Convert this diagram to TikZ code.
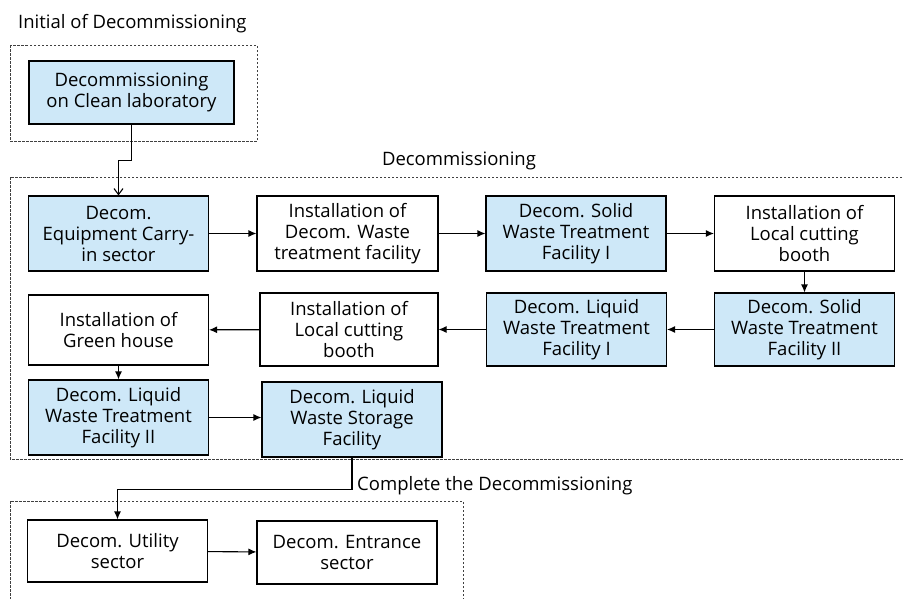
\documentclass[tikz,border=0pt]{standalone}
\usepackage{fontspec}
\setmainfont{Open Sans}
\usetikzlibrary{arrows.meta}

\definecolor{boxblue}{RGB}{206,232,248}

\begin{document}
\begin{tikzpicture}[x=1pt,y=-1pt,
  font=\fontsize{18.5}{21}\selectfont,
  stage/.style={draw, line width=1.1pt, minimum width=180pt, minimum height=75pt, align=center, inner sep=1pt},
  blue/.style={stage, fill=boxblue},
  frame/.style={draw=black!75, dashed, dash pattern=on 2.5pt off 1.5pt, line width=0.6pt},
  flow/.style={-{Latex[length=8pt,width=7pt]}, line width=1.1pt}]

\useasboundingbox (0,0) rectangle (904,598);

% Dashed frames
\draw [frame] (10,45) rectangle (257,141);
\draw [frame] (10,177) rectangle (912,459);
\draw [frame] (10,501) rectangle (463,612);

% Frame titles
\node (tinit) [anchor=west, inner sep=0pt] at (18,24) {Initial of Decommissioning};
\node (tdecom) at (459,161) {Decommissioning};
\node (tdone) [anchor=west, inner sep=0pt] at (357,486) {Complete the Decommissioning};

% Initial stage
\node (clean) [blue, minimum width=205pt, minimum height=63pt] at (131.5,92.5) {Decommissioning\\on Clean laboratory};

% Row 1
\node (carry) [blue] at (118.5,233.5) {Decom.\\Equipment Carry-\\in sector};
\node (wtf) [stage, minimum width=181pt] at (347.5,233.5) {Installation of\\Decom. Waste\\treatment facility};
\node (swt1) [blue] at (576,233.5) {Decom. Solid\\Waste Treatment\\Facility I};
\node (booth1) [stage] at (804.5,233.5) {Installation of\\Local cutting\\booth};

% Row 2
\node (swt2) [blue, minimum height=73pt] at (804.5,329.5) {Decom. Solid\\Waste Treatment\\Facility II};
\node (lwt1) [blue, minimum height=73pt] at (576.5,329.5) {Decom. Liquid\\Waste Treatment\\Facility I};
\node (booth2) [stage, minimum width=178pt, minimum height=73pt] at (349,329.5) {Installation of\\Local cutting\\booth};
\node (green) [stage, minimum height=70pt] at (118.5,330) {Installation of\\Green house};

% Row 3
\node (lwt2) [blue] at (118.5,417.5) {Decom. Liquid\\Waste Treatment\\Facility II};
\node (lws) [blue] at (352,419.5) {Decom. Liquid\\Waste Storage\\Facility};

% Last stage
\node (util) [stage, minimum height=62pt] at (117.5,551) {Decom. Utility\\sector};
\node (entr) [stage, minimum height=63pt] at (347,552.5) {Decom. Entrance\\sector};

% Connectors
\draw [line width=1.1pt, -{Straight Barb[length=6pt,width=9pt]}] (clean.south) -- ++(0,36) -| (carry.north);
\draw [flow] (carry) -- (wtf);
\draw [flow] (wtf) -- (swt1);
\draw [flow] (swt1) -- (booth1);
\draw [flow] (booth1) -- (swt2);
\draw [flow] (swt2) -- (lwt1);
\draw [flow] (lwt1) -- (booth2);
\draw [flow] (booth2) -- (green);
\draw [flow] (green) -- (lwt2);
\draw [flow] (lwt2.east) -- (lws.west |- lwt2.east);
\draw [flow] (lws.south) -- ++(0,32) -| (util.north);
\draw [flow] (util) -- (entr);

\end{tikzpicture}
\end{document}
